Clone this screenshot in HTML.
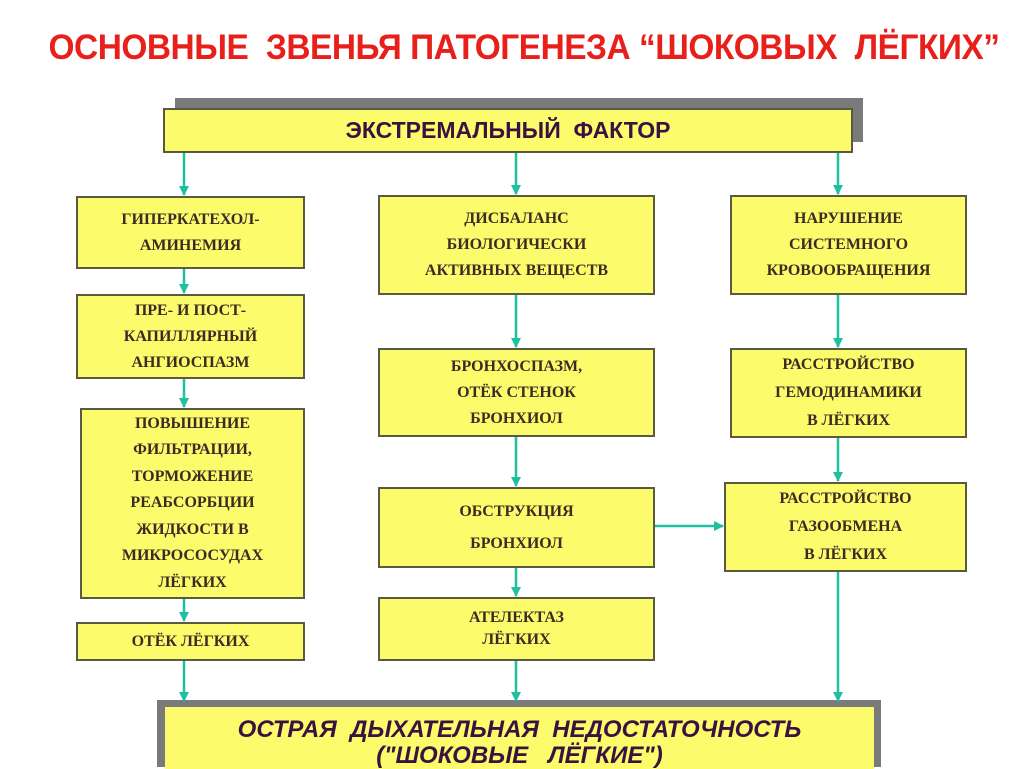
<!DOCTYPE html>
<html><head><meta charset="utf-8"><style>
body{margin:0;width:1024px;height:767px;background:#fff;position:relative;overflow:hidden;font-family:"Liberation Serif",serif}
.t{position:absolute;left:12px;width:1024px;top:28px;text-align:center;font:bold 35px "Liberation Sans",sans-serif;color:#e8201c;letter-spacing:-0.5px;white-space:nowrap;transform:scaleX(0.955)}
.b{position:absolute;box-sizing:border-box;background:#fbfb6c;border:2px solid #5a5a40;display:flex;align-items:center;justify-content:center;text-align:center;font-weight:bold;font-size:16px;line-height:26px;color:#3b2b22}
.sh{position:absolute;background:#7a7a7a}
</style></head><body>
<div class="t">ОСНОВНЫЕ&nbsp; ЗВЕНЬЯ ПАТОГЕНЕЗА “ШОКОВЫХ&nbsp; ЛЁГКИХ”</div>
<div class="sh" style="left:175px;top:98px;width:688px;height:44px"></div>
<div class="b" style="left:163px;top:108px;width:690px;height:45px;font:bold 23px 'Liberation Sans',sans-serif;color:#3a1240">ЭКСТРЕМАЛЬНЫЙ&nbsp; ФАКТОР</div>

<div class="b" style="left:76px;top:196px;width:229px;height:73px">ГИПЕРКАТЕХОЛ-<br>АМИНЕМИЯ</div>
<div class="b" style="left:76px;top:294px;width:229px;height:85px">ПРЕ- И ПОСТ-<br>КАПИЛЛЯРНЫЙ<br>АНГИОСПАЗМ</div>
<div class="b" style="left:80px;top:408px;width:225px;height:191px;line-height:26.5px">ПОВЫШЕНИЕ<br>ФИЛЬТРАЦИИ,<br>ТОРМОЖЕНИЕ<br>РЕАБСОРБЦИИ<br>ЖИДКОСТИ В<br>МИКРОСОСУДАХ<br>ЛЁГКИХ</div>
<div class="b" style="left:76px;top:622px;width:229px;height:39px">ОТЁК ЛЁГКИХ</div>

<div class="b" style="left:378px;top:195px;width:277px;height:100px">ДИСБАЛАНС<br>БИОЛОГИЧЕСКИ<br>АКТИВНЫХ ВЕЩЕСТВ</div>
<div class="b" style="left:378px;top:348px;width:277px;height:89px">БРОНХОСПАЗМ,<br>ОТЁК СТЕНОК<br>БРОНХИОЛ</div>
<div class="b" style="left:378px;top:487px;width:277px;height:81px;line-height:32px">ОБСТРУКЦИЯ<br>БРОНХИОЛ</div>
<div class="b" style="left:378px;top:597px;width:277px;height:64px;line-height:22px">АТЕЛЕКТАЗ<br>ЛЁГКИХ</div>

<div class="b" style="left:730px;top:195px;width:237px;height:100px">НАРУШЕНИЕ<br>СИСТЕМНОГО<br>КРОВООБРАЩЕНИЯ</div>
<div class="b" style="left:730px;top:348px;width:237px;height:90px;line-height:28px">РАССТРОЙСТВО<br>ГЕМОДИНАМИКИ<br>В ЛЁГКИХ</div>
<div class="b" style="left:724px;top:482px;width:243px;height:90px;line-height:28px">РАССТРОЙСТВО<br>ГАЗООБМЕНА<br>В ЛЁГКИХ</div>

<div class="sh" style="left:157px;top:700px;width:724px;height:67px"></div>
<div class="b" style="left:165px;top:707px;width:709px;height:62px;border:none;font:italic bold 24px 'Liberation Sans',sans-serif;line-height:26px;color:#3a1240;align-items:flex-start;padding-top:10px">ОСТРАЯ&nbsp; ДЫХАТЕЛЬНАЯ&nbsp; НЕДОСТАТОЧНОСТЬ<br>("ШОКОВЫЕ&nbsp;&nbsp; ЛЁГКИЕ")</div>

<svg style="position:absolute;left:0;top:0" width="1024" height="767">
<defs><marker id="a" markerWidth="10" markerHeight="10" refX="9" refY="5" orient="auto" markerUnits="userSpaceOnUse"><path d="M0,0 L10,5 L0,10 z" fill="#1fbfa0"/></marker></defs>
<g stroke="#1fbfa0" stroke-width="2.5" marker-end="url(#a)">
<line x1="184" y1="153" x2="184" y2="195"/>
<line x1="516" y1="153" x2="516" y2="194"/>
<line x1="838" y1="153" x2="838" y2="194"/>
<line x1="184" y1="269" x2="184" y2="293"/>
<line x1="184" y1="379" x2="184" y2="407"/>
<line x1="184" y1="599" x2="184" y2="621"/>
<line x1="184" y1="661" x2="184" y2="701"/>
<line x1="516" y1="295" x2="516" y2="347"/>
<line x1="516" y1="437" x2="516" y2="486"/>
<line x1="516" y1="568" x2="516" y2="596"/>
<line x1="516" y1="661" x2="516" y2="701"/>
<line x1="838" y1="295" x2="838" y2="347"/>
<line x1="838" y1="438" x2="838" y2="481"/>
<line x1="838" y1="572" x2="838" y2="701"/>
<line x1="655" y1="526" x2="723" y2="526"/>
</g></svg>
</body></html>
